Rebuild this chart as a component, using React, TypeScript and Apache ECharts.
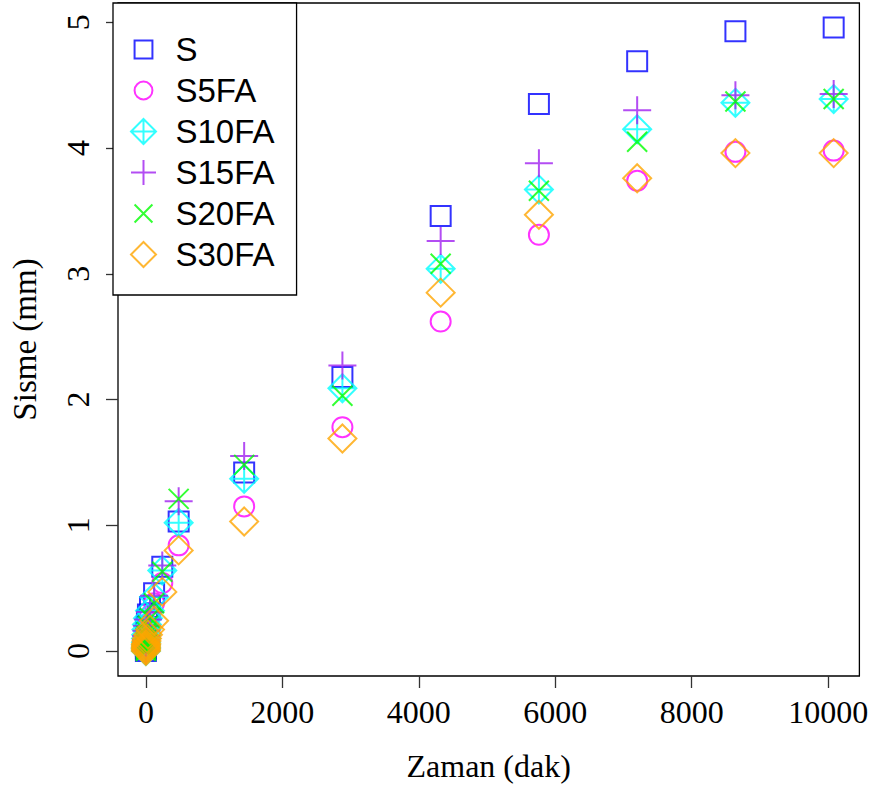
import React, { useEffect, useRef } from "react";
import * as echarts from "echarts";

// Time (minutes)
const times = [0, 0.1, 0.25, 0.5, 1, 2, 4, 8, 15, 30, 60, 120, 240, 480, 1440, 2880, 4320, 5760, 7200, 8640, 10080];

// Swelling (mm) per mix
const sS = [0, 0.02, 0.04, 0.06, 0.08, 0.11, 0.15, 0.19, 0.24, 0.29, 0.35, 0.46, 0.67, 1.03, 1.42, 2.18, 3.46, 4.35, 4.69, 4.93, 4.96];
const sS5FA = [0, 0.01, 0.02, 0.03, 0.05, 0.07, 0.09, 0.12, 0.16, 0.21, 0.28, 0.38, 0.54, 0.84, 1.15, 1.78, 2.62, 3.31, 3.74, 3.97, 3.98];
const sS10FA = [0, 0.02, 0.03, 0.05, 0.07, 0.1, 0.13, 0.17, 0.21, 0.26, 0.32, 0.43, 0.64, 1.02, 1.37, 2.09, 3.04, 3.67, 4.15, 4.36, 4.39];
const sS15FA = [0, 0.01, 0.03, 0.05, 0.07, 0.09, 0.12, 0.16, 0.2, 0.25, 0.31, 0.44, 0.68, 1.19, 1.55, 2.27, 3.26, 3.88, 4.3, 4.42, 4.43];
const sS20FA = [0, 0.01, 0.02, 0.03, 0.05, 0.07, 0.09, 0.12, 0.15, 0.2, 0.26, 0.38, 0.63, 1.21, 1.48, 2.03, 3.08, 3.66, 4.05, 4.37, 4.39];
const sS30FA = [0, 0.01, 0.02, 0.03, 0.04, 0.05, 0.06, 0.08, 0.1, 0.13, 0.17, 0.24, 0.47, 0.8, 1.03, 1.69, 2.85, 3.47, 3.76, 3.96, 3.96];

const seriesNames = ["S", "S5FA", "S10FA", "S15FA", "S20FA", "S30FA"];
const seriesValues = [sS, sS5FA, sS10FA, sS15FA, sS20FA, sS30FA];
const seriesColors = ["#0000FF", "#FF00FF", "#00FFFF", "#A020F0", "#00FF00", "#FFA500"];

const xTicks = [0, 2000, 4000, 6000, 8000, 10000];
const yTicks = [0, 1, 2, 3, 4, 5];

// symbols drawn in a common 28x28 frame (anchored by two move-to points)
const A = "M-14,-14M14,14";
const symbolPaths = [
  "path://" + A + "M-10,-10L10,-10L10,10L-10,10Z",
  "path://" + A + "M10,0A10,10,0,1,1,-10,0A10,10,0,1,1,10,0Z",
  "path://" + A + "M0,-14L14,0L0,14L-14,0ZM0,-14L0,14M-14,0L14,0",
  "path://" + A + "M0,-14L0,14M-14,0L14,0",
  "path://" + A + "M-10,-10L10,10M10,-10L-10,10",
  "path://" + A + "M0,-14L14,0L0,14L-14,0Z",
];

export default function App() {
  const ref = useRef<HTMLDivElement>(null);
  useEffect(() => {
    if (!ref.current) return;
    const chart = echarts.init(ref.current, null, { renderer: "svg" });
    const serif = "Liberation Serif";
    const axisFont = { fontFamily: serif, fontSize: 32, color: "#000" };
    const fmt = (v: number) => String(v);
    chart.setOption({
      animation: false,
      backgroundColor: "#fff",
      grid: {
        show: true,
        left: 113,
        top: 3,
        right: 8,
        bottom: 114,
        borderColor: "#000",
        borderWidth: 1.3,
        backgroundColor: "transparent",
      },
      legend: {
        orient: "vertical",
        left: 113,
        top: 3,
        padding: [26, 22, 20, 17],
        itemWidth: 54,
        itemHeight: 25,
        itemGap: 0,
        symbolKeepAspect: true,
        borderColor: "#000",
        borderWidth: 1.3,
        borderRadius: 0,
        backgroundColor: "#fff",
        textStyle: { fontFamily: "Liberation Sans", fontSize: 33, lineHeight: 41, color: "#000" },
        data: seriesNames.map((n, i) => ({
          name: n,
          icon: symbolPaths[i],
          itemStyle: { color: "transparent", borderColor: seriesColors[i], borderWidth: 2 },
        })),
      },
      xAxis: {
        type: "value",
        min: -409,
        max: 10457,
        axisLine: { show: false, onZero: false },
        splitLine: { show: false },
        axisTick: { show: true, length: 12, customValues: xTicks, lineStyle: { color: "#333", width: 1.3 } },
        axisLabel: { customValues: xTicks, margin: 20, formatter: fmt, ...axisFont },
        name: "Zaman (dak)",
        nameLocation: "middle",
        nameGap: 74,
        nameTextStyle: axisFont,
      },
      yAxis: {
        type: "value",
        min: -0.199,
        max: 5.154,
        axisLine: { show: false, onZero: false },
        splitLine: { show: false },
        axisTick: { show: true, length: 12, customValues: yTicks, lineStyle: { color: "#333", width: 1.3 } },
        axisLabel: { customValues: yTicks, rotate: 90, margin: 24, formatter: fmt, ...axisFont },
        name: "Sisme (mm)",
        nameLocation: "middle",
        nameGap: 77,
        nameTextStyle: { ...axisFont, fontSize: 33 },
      },
      series: seriesNames.map((n, i) => ({
        name: n,
        type: "scatter",
        symbol: symbolPaths[i],
        symbolSize: 28,
        itemStyle: { color: "transparent", borderColor: seriesColors[i], borderWidth: 2 },
        emphasis: { disabled: true },
        data: times.map((t, k) => [t, seriesValues[i][k]]),
      })),
    });
    return () => chart.dispose();
  }, []);
  return (
    <div
      ref={ref}
      style={{ position: "fixed", left: 0, top: 0, width: 871, height: 790, background: "#fff" }}
    />
  );
}
